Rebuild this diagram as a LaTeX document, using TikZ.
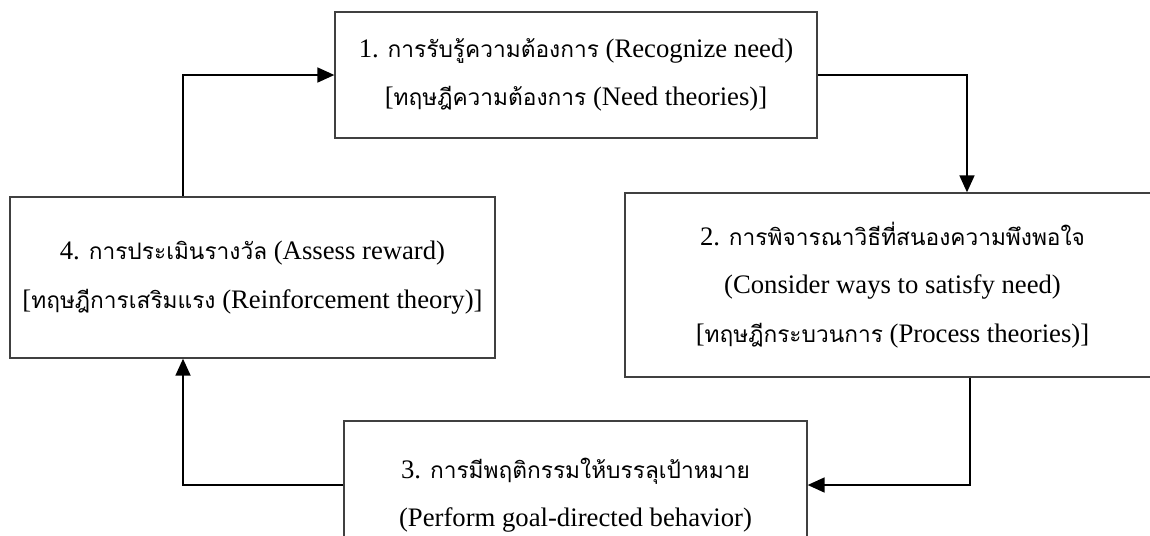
\documentclass[tikz,border=0pt]{standalone}
\usepackage{fontspec}
\setmainfont{Liberation Serif}
\newfontfamily\thaifont[Script=Thai,Scale=0.85]{Loma}
\newcommand{\tht}[1]{{\thaifont #1}}
\usetikzlibrary{arrows.meta}
\tikzset{
  stagebox/.style={draw=black!75,line width=0.8pt,rectangle,align=center,
    font=\fontsize{15.2}{27.5}\selectfont},
  flow/.style={-{Triangle[length=0.34cm,width=0.3cm]},line width=1pt}
}
\begin{document}
\begin{tikzpicture}[x=0.02cm,y=-0.02cm]
\useasboundingbox (0,0) rectangle (1150,535);
\clip (0,0) rectangle (1150,535);
\node[stagebox,minimum width=9.64cm,minimum height=2.52cm] (need) at (576,75)
  {1. \tht{การรับรู้ความต้องการ} (Recognize need)\\
   {[}\tht{ทฤษฎีความต้องการ} (Need theories)]};
\node[stagebox,minimum width=10.7cm,minimum height=3.68cm] (ways) at (892.5,285)
  {2. \tht{การพิจารณาวิธีที่สนองความพึงพอใจ}\\
   (Consider ways to satisfy need)\\
   {[}\tht{ทฤษฎีกระบวนการ} (Process theories)]};
\node[stagebox,minimum width=9.26cm,minimum height=2.96cm] (goal) at (575.5,495)
  {3. \tht{การมีพฤติกรรมให้บรรลุเป้าหมาย}\\
   (Perform goal-directed behavior)};
\node[stagebox,minimum width=9.7cm,minimum height=3.22cm] (reward) at (252.5,277.5)
  {4. \tht{การประเมินรางวัล} (Assess reward)\\
   {[}\tht{ทฤษฎีการเสริมแรง} (Reinforcement theory)]};
\draw[flow] (need.east) -| ([xshift=1.49cm]ways.north);
\draw[flow] ([xshift=1.55cm]ways.south) |- ([yshift=0.2cm]goal.east);
\draw[flow] ([yshift=0.2cm]goal.west) -| ([xshift=-1.39cm]reward.south);
\draw[flow] ([xshift=-1.39cm]reward.north) |- (need.west);
\end{tikzpicture}
\end{document}
